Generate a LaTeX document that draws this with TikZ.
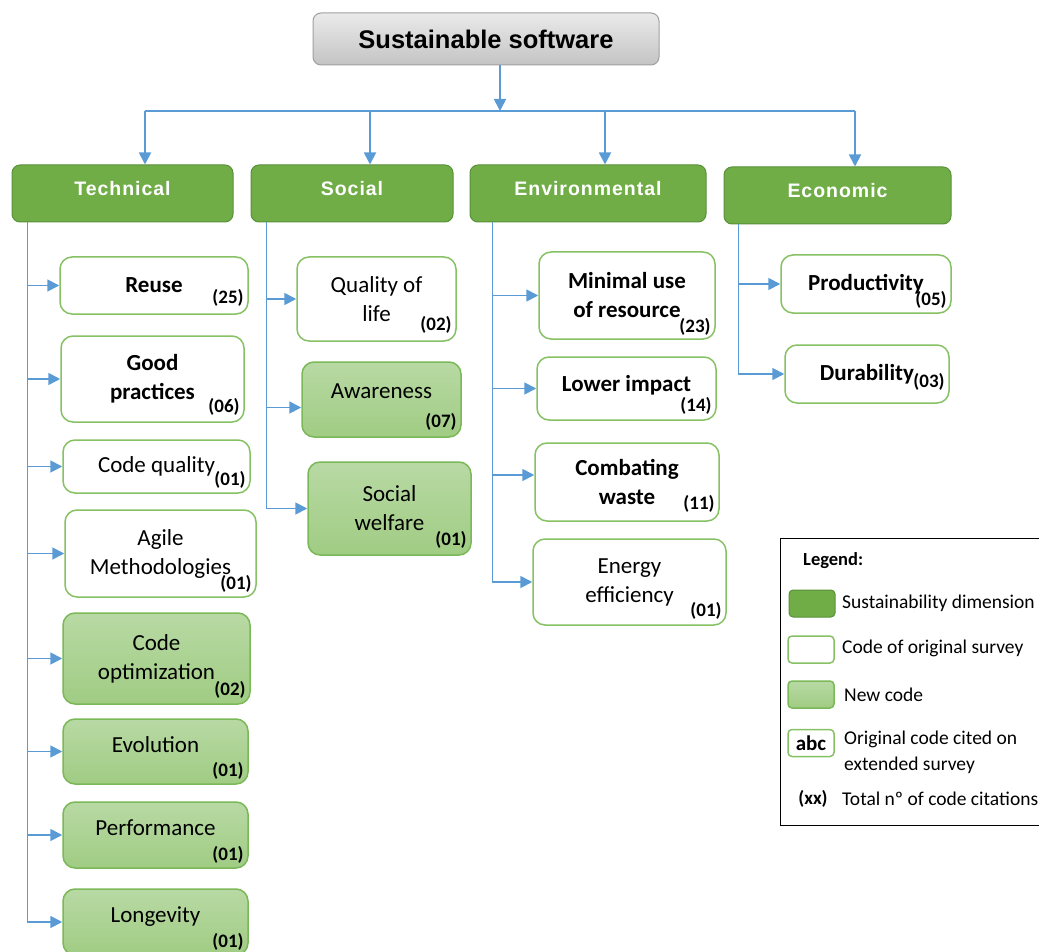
\documentclass[tikz,border=0pt]{standalone}
\usepackage{fontspec}
\setmainfont{Carlito}
\newfontfamily\headfont[LetterSpace=5]{Liberation Sans}
\newfontfamily\titlefont{Liberation Sans}
\usetikzlibrary{calc}
\usetikzlibrary{arrows.meta}
\definecolor{dimgreen}{RGB}{112, 173, 71}
\definecolor{dimedge}{RGB}{88, 145, 56}
\definecolor{codeedge}{RGB}{134, 193, 100}
\definecolor{newtop}{RGB}{184, 217, 164}
\definecolor{newbottom}{RGB}{160, 204, 131}
\definecolor{newedge}{RGB}{122, 184, 88}
\definecolor{linkblue}{RGB}{91, 155, 213}
\definecolor{titletop}{RGB}{234, 234, 234}
\definecolor{titlebottom}{RGB}{196, 196, 196}
\definecolor{titleedge}{RGB}{160, 160, 160}

\tikzset{
    box/.style 2 args={minimum width=#1, minimum height=#2, inner sep=2pt, align=center},
    raised/.style={text depth=#1},
    topbox/.style={rounded corners=8pt, top color=titletop, bottom color=titlebottom, draw=titleedge,
                   line width=1pt, font=\titlefont\bfseries\fontsize{25.5}{30}\selectfont},
    dimension/.style={rounded corners=8pt, fill=dimgreen, draw=dimedge, line width=1pt, text=white,
                      font=\headfont\bfseries\fontsize{19.5}{22}\selectfont, text depth=10pt},
    oldcode/.style={rounded corners=12pt, fill=white, draw=codeedge, line width=1.5pt,
                    font=\fontsize{23}{29}\selectfont},
    newcode/.style={rounded corners=12pt, top color=newtop, bottom color=newbottom, draw=newedge,
                    line width=1.5pt, font=\fontsize{23}{29}\selectfont},
    cited/.style={font=\bfseries\fontsize{23}{29}\selectfont},
    count/.style={anchor=south east, inner sep=1pt, font=\bfseries\fontsize{19}{20}\selectfont},
    link/.style={draw=linkblue, line width=1.8pt},
    arr/.style={link, -{Triangle[length=12pt, width=12pt]}},
    legswatch/.style={box={46}{27}, rounded corners=4pt},
    legtext/.style={anchor=west, inner sep=0pt, align=left, font=\fontsize{19.5}{26}\selectfont}
}

\begin{document}
\begin{tikzpicture}[x=1pt, y=-1pt]
    \useasboundingbox (0, 0) rectangle (1039, 952);
    % Root
    \node[topbox, box={346}{52}] (title) at (486, 39) {Sustainable software};
    % Dimensions
    \node[dimension, box={221}{57}] (tech) at (122.5, 193.5) {Technical};
    \node[dimension, box={202}{57}] (soc)  at (352.0, 193.5) {Social};
    \node[dimension, box={236}{57}] (env)  at (588.0, 193.5) {Environmental};
    \node[dimension, box={227}{57}] (econ) at (837.5, 195.5) {Economic};
    % Technical codes
    \node[oldcode, cited, box={188}{57}] (reuse)  at (154.0, 285.5) {Reuse};
    \node[oldcode, cited, box={183}{86}] (good)   at (152.5, 379.0) {Good\\practices};
    \node[oldcode,        box={187}{53}] (cq)     at (156.5, 466.5) {Code quality};
    \node[oldcode,        box={191}{87}] (agile)  at (160.5, 553.5) {Agile\\Methodologies};
    \node[newcode,        box={187}{91}] (copt)   at (156.5, 658.5) {Code\\optimization};
    \node[newcode, raised=14pt, box={185}{65}] (evol)   at (155.5, 751.5) {Evolution};
    \node[newcode, raised=14pt, box={185}{66}] (perf)   at (155.5, 835.0) {Performance};
    \node[newcode, raised=14pt, box={185}{66}] (longev) at (155.5, 922.0) {Longevity};
    % Social codes
    \node[oldcode,        box={159}{84}] (qol)     at (376.5, 299.0) {Quality of\\life};
    \node[newcode, raised=16pt, box={159}{75}] (aware)   at (381.5, 399.5) {Awareness};
    \node[newcode,        box={163}{93}] (welfare) at (389.5, 508.5) {Social\\welfare};
    % Environmental codes
    \node[oldcode, cited, box={176}{87}] (minimal) at (627.0, 295.5) {Minimal use\\of resource};
    \node[oldcode, cited, raised=10pt, box={179}{63}] (lower) at (626.5, 388.5) {Lower impact};
    \node[oldcode, cited, box={184}{78}] (combat)  at (627.0, 482.0) {Combating\\waste};
    \node[oldcode,        box={193}{86}] (energy)  at (629.5, 582.0) {Energy\\efficiency};
    % Economic codes
    \node[oldcode, cited, box={170}{58}] (prod) at (866.0, 284.0) {Productivity};
    \node[oldcode, cited, box={164}{58}] (dura) at (867.0, 374.0) {Durability};
    % Citation counts
    \foreach \n/\c/\dy in {reuse/25/7, good/06/6, cq/01/4, agile/01/4, copt/02/5, evol/01/4,
                           perf/01/4, longev/01/4, qol/02/7, aware/07/6, welfare/01/6,
                           minimal/23/3, lower/14/5, combat/11/8, energy/01/5, prod/05/4, dura/03/12}
        \node[count] (\n-c) at ([shift={(-4pt,\dy pt)}]\n.south east) {(\c)};
    % Root to dimensions
    \coordinate (bar) at (500, 111);
    \coordinate (techin) at ([xshift=22.5pt]tech.north);
    \coordinate (socin)  at ([xshift=18pt]soc.north);
    \coordinate (envin)  at ([xshift=17pt]env.north);
    \coordinate (econin) at ([xshift=17.5pt]econ.north);
    \draw[arr]  (title.south -| bar) -- (bar);
    \draw[link] (techin |- bar) -- (econin |- bar);
    \foreach \d in {techin, socin, envin, econin}
        \draw[arr] (\d |- bar) -- (\d);
    % Dimensions to codes
    \coordinate (techtrunk) at ([xshift=16pt]tech.south west);
    \coordinate (soctrunk)  at ([xshift=16pt]soc.south west);
    \coordinate (envtrunk)  at ([xshift=23pt]env.south west);
    \coordinate (econtrunk) at ([xshift=15pt]econ.south west);
    \foreach \c in {reuse, good, cq, agile, copt, evol, perf, longev}
        \draw[arr] (techtrunk) |- (\c.west);
    \draw[arr] (soctrunk) |- (qol.west);
    \draw[arr] (soctrunk) |- ([yshift=-8pt]aware.west);
    \draw[arr] (soctrunk) |- (welfare.west);
    \draw[arr] (envtrunk) |- (minimal.west);
    \draw[arr] (envtrunk) |- (lower.west);
    \draw[arr] (envtrunk) |- ([yshift=7pt]combat.west);
    \draw[arr] (envtrunk) |- (energy.west);
    \draw[arr] (econtrunk) |- (prod.west);
    \draw[arr] (econtrunk) |- (dura.west);
    % Legend
    \draw[line width=1pt] (780, 538) rectangle (1050, 825);
    \node[legtext, font=\bfseries\fontsize{18.5}{20}\selectfont] (leghead) at (803, 561) {Legend:};
    \node[dimension, legswatch, text depth=0pt] (legdim) at (812, 603.5) {};
    \node[oldcode, legswatch] (legold) at (811, 649.5) {};
    \node[newcode, legswatch] (legnew) at (811, 694.5) {};
    \node[oldcode, legswatch, inner sep=0pt, font=\bfseries\fontsize{21}{22}\selectfont] (legabc) at (811, 743) {abc};
    \node[legtext] (legdimtext) at (842, 603) {Sustainability dimension};
    \node[legtext] (legoldtext) at (842, 648) {Code of original survey};
    \node[legtext] (legnewtext) at (844, 695) {New code};
    \node[legtext] (legabctext) at (844, 752) {Original code cited on\\extended survey};
    \node[font=\bfseries\fontsize{19}{20}\selectfont, inner sep=0pt] (legxx) at (813, 799) {(xx)};
    \node[legtext] (legxxtext) at (842, 799) {Total nº of code citations};
\end{tikzpicture}
\end{document}
